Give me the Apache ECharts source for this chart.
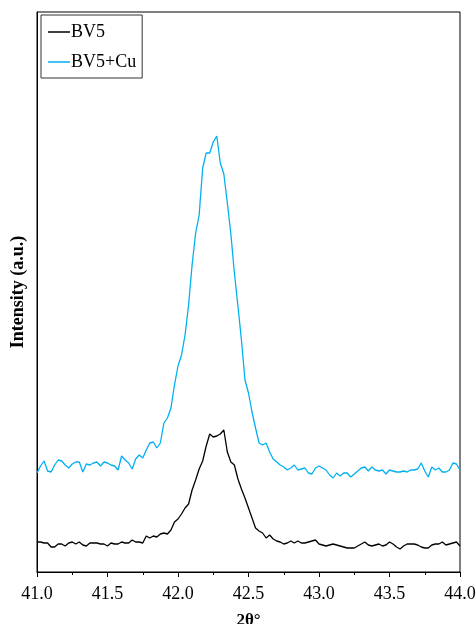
<!DOCTYPE html>
<html>
<head>
<meta charset="utf-8">
<script src="https://cdn.jsdelivr.net/npm/echarts@6/dist/echarts.min.js"></script>
<style>
html,body{margin:0;padding:0;background:#fff;}
#chart{width:476px;height:624px;}
</style>
</head>
<body>
<div id="chart"></div>
<script>
// 2θ (degrees)
const twoTheta = [
41.000,41.025,41.050,41.075,41.100,41.125,41.150,41.175,41.200,41.225,
41.250,41.275,41.300,41.325,41.350,41.375,41.400,41.425,41.450,41.475,
41.500,41.525,41.550,41.575,41.600,41.625,41.650,41.675,41.700,41.725,
41.750,41.775,41.800,41.825,41.850,41.875,41.900,41.925,41.950,41.975,
42.000,42.025,42.050,42.075,42.100,42.125,42.150,42.175,42.200,42.225,
42.250,42.275,42.300,42.325,42.350,42.375,42.400,42.425,42.450,42.475,
42.500,42.525,42.550,42.575,42.600,42.625,42.650,42.675,42.700,42.725,
42.750,42.775,42.800,42.825,42.850,42.875,42.900,42.925,42.950,42.975,
43.000,43.025,43.050,43.075,43.100,43.125,43.150,43.175,43.200,43.225,
43.250,43.275,43.300,43.325,43.350,43.375,43.400,43.425,43.450,43.475,
43.500,43.525,43.550,43.575,43.600,43.625,43.650,43.675,43.700,43.725,
43.750,43.775,43.800,43.825,43.850,43.875,43.900,43.925,43.950,43.975,
44.000
];

// Intensity (a.u.) — BV5
const bv5 = [
30,30,29,29,25,25,28,28,26,29,
30,28,30,27,26,29,29,29,28,28,
26,29,28,28,30,29,29,32,30,30,
29,36,34,36,35,38,39,38,42,50,
53,58,64,68,82,92,103,111,126,138,
135,136,138,142,120,110,107,93,83,74,
64,54,44,41,39,34,37,33,31,30,
28,29,31,29,31,29,29,30,31,32,
28,27,26,27,28,27,26,25,24,24,
24,26,28,30,27,26,27,28,26,27,
30,28,25,23,26,28,28,28,27,25,
24,24,27,28,28,30,27,28,29,30,
26
];

// Intensity (a.u.) — BV5+Cu
const bv5cu = [
99,106,111,101,100,107,112,111,107,104,
108,110,110,100,108,107,109,110,106,110,
109,107,106,102,116,112,109,103,113,117,
114,122,129,130,124,129,149,154,164,187,
206,217,237,267,307,339,357,404,419,419,
430,436,409,398,369,338,299,266,232,192,
179,160,144,129,127,129,120,113,110,107,
105,102,104,107,102,103,104,99,98,104,
106,104,102,97,94,99,96,99,99,95,
98,101,104,105,101,105,102,101,102,98,
102,101,100,100,101,100,102,102,103,109,
101,95,105,102,104,100,100,102,109,108,
102
];

const xTicks = [41.0, 41.5, 42.0, 42.5, 43.0, 43.5, 44.0];

const chart = echarts.init(document.getElementById('chart'), null, {renderer: 'canvas'});
const font = '"Liberation Serif", "Times New Roman", serif';

chart.setOption({
  animation: false,
  backgroundColor: '#fff',
  textStyle: {fontFamily: font},
  grid: {
    left: 37, right: 16, top: 12, bottom: 52,
    containLabel: false,
    outerBoundsMode: 'none',
    show: true, borderColor: '#000', borderWidth: 1, backgroundColor: 'transparent'
  },
  legend: {
    left: 41, top: 15,
    orient: 'vertical',
    borderColor: '#333', borderWidth: 1,
    padding: [8, 6, 7, 7],
    itemGap: 12,
    itemWidth: 22, itemHeight: 1.5,
    icon: 'rect',
    textStyle: {fontFamily: font, fontSize: 18, color: '#000', padding: [0, 0, 0, -4]},
    data: ['BV5', 'BV5+Cu']
  },
  xAxis: {
    type: 'value',
    min: xTicks[0], max: xTicks[xTicks.length - 1], interval: 0.5,
    name: '2θ°',
    nameLocation: 'middle',
    nameGap: 40,
    nameTextStyle: {fontFamily: font, fontSize: 17, fontWeight: 'bold', color: '#000'},
    axisLine: {show: true, lineStyle: {color: '#000', width: 1}},
    axisTick: {show: true, inside: false, length: 5, lineStyle: {color: '#000'}},
    minorTick: {show: true, splitNumber: 2, length: 3, lineStyle: {color: '#000'}},
    axisLabel: {
      fontFamily: font, fontSize: 18, color: '#000', margin: 13,
      formatter: v => v.toFixed(1)
    },
    splitLine: {show: false},
    minorSplitLine: {show: false}
  },
  yAxis: {
    type: 'value',
    min: 0, max: 560,
    name: 'Intensity (a.u.)',
    nameLocation: 'middle',
    nameGap: 10,
    nameRotate: 90,
    nameTextStyle: {fontFamily: font, fontSize: 18, fontWeight: 'bold', color: '#000'},
    axisLine: {show: true, lineStyle: {color: '#000'}},
    axisTick: {show: false},
    axisLabel: {show: false},
    splitLine: {show: false}
  },
  series: [
    {
      name: 'BV5', type: 'line', showSymbol: false, symbol: 'none',
      data: twoTheta.map((x, i) => [x, bv5[i]]),
      lineStyle: {color: '#000', width: 1.3},
      itemStyle: {color: '#000'}
    },
    {
      name: 'BV5+Cu', type: 'line', showSymbol: false, symbol: 'none',
      data: twoTheta.map((x, i) => [x, bv5cu[i]]),
      lineStyle: {color: '#00B0F0', width: 1.3},
      itemStyle: {color: '#00B0F0'}
    }
  ]
});
</script>
</body>
</html>
